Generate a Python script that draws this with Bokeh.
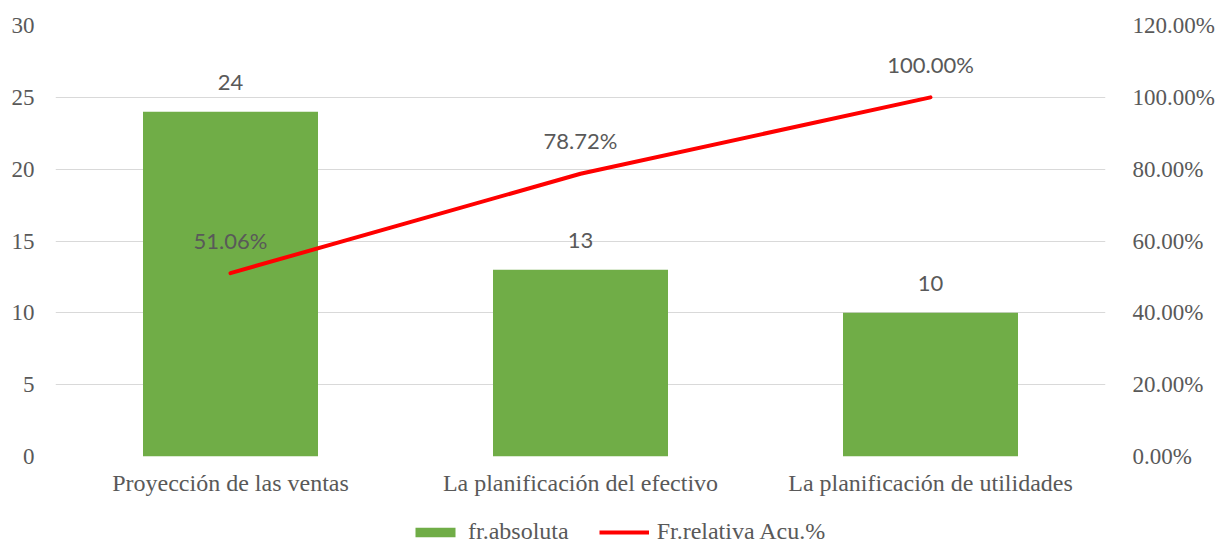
from bokeh.plotting import figure
from bokeh.layouts import column
from bokeh.models import (ColumnDataSource, Range1d, FactorRange, LinearAxis, FixedTicker,
                          NumeralTickFormatter, Legend, LegendItem)
from bokeh.core.properties import value
from bokeh.embed import file_html
from bokeh.resources import INLINE

categories = ["Proyección de las ventas", "La planificación del efectivo", "La planificación de utilidades"]
absoluta = [24, 13, 10]
relativa_acu = [0.5106, 0.7872, 1.0]
absoluta_labels = ["24", "13", "10"]
relativa_labels = ["51.06%", "78.72%", "100.00%"]
left_ticks = [0, 5, 10, 15, 20, 25, 30]
right_ticks = [0, 0.2, 0.4, 0.6, 0.8, 1.0, 1.2]
series_names = ["fr.absoluta", "Fr.relativa Acu.%"]

TEXT = "#595959"
GRID = "#D9D9D9"
GREEN = "#70AD47"
RED = "#FF0000"
SERIF = "Liberation Serif"

src = ColumnDataSource(dict(cat=categories, absoluta=absoluta, rel=relativa_acu,
                            alab=absoluta_labels, rlab=relativa_labels))

p = figure(width=1217, height=519, x_range=FactorRange(*categories, range_padding=0),
           y_range=Range1d(0, 30), output_backend="svg", toolbar_location=None,
           min_border_left=55, min_border_right=107, min_border_top=25, min_border_bottom=63)
p.outline_line_color = None
p.extra_y_ranges = {"pct": Range1d(0, 1.2)}

p.vbar(x="cat", top="absoluta", width=0.5, source=src, color=GREEN, line_color=None)
p.line(x="cat", y="rel", source=src, y_range_name="pct", line_color=RED,
       line_width=4, line_cap="round", line_join="round")

p.text(x="cat", y="absoluta", text="alab", source=src, text_align="center", text_baseline="middle",
       y_offset=-29, text_font=value("Lato"), text_font_size="22px", text_color=TEXT)
p.text(x="cat", y="rel", text="rlab", source=src, y_range_name="pct", text_align="center",
       text_baseline="middle", y_offset=-33, text_font=value("Lato"), text_font_size="22px",
       text_color=TEXT)

# axes
p.yaxis.ticker = FixedTicker(ticks=left_ticks)
for ax in [p.yaxis[0], p.xaxis[0]]:
    ax.axis_line_color = None
    ax.major_tick_line_color = None
    ax.minor_tick_line_color = None
    ax.major_tick_out = 0
    ax.major_tick_in = 0
    ax.major_label_text_font = SERIF
    ax.major_label_text_color = TEXT
p.yaxis.major_label_text_font_size = "23px"
p.xaxis.major_label_text_font_size = "24px"
p.yaxis.major_label_standoff = 21
p.xaxis.major_label_standoff = 13

right = LinearAxis(y_range_name="pct", ticker=FixedTicker(ticks=right_ticks),
                   formatter=NumeralTickFormatter(format="0.00%"))
right.axis_line_color = None
right.major_tick_line_color = None
right.minor_tick_line_color = None
right.major_tick_out = 0
right.major_tick_in = 0
right.major_label_text_font = SERIF
right.major_label_text_font_size = "23px"
right.major_label_text_color = TEXT
right.major_label_standoff = 27
p.add_layout(right, "right")

p.xgrid.grid_line_color = None
p.ygrid.grid_line_color = GRID
p.ygrid.grid_line_width = 1

# legend strip (separate small figure so the legend is not clipped by the main frame)
lf = figure(width=1217, height=26, output_backend="svg", toolbar_location=None,
            x_axis_type=None, y_axis_type=None, min_border=0,
            x_range=FactorRange(*categories), y_range=Range1d(0, 30))
lf.outline_line_color = None
lf.xgrid.visible = False
lf.ygrid.visible = False
lbar = lf.vbar(x="cat", top="absoluta", width=0.5, source=src, color=GREEN, line_color=None,
               visible=False)
lline = lf.line(x="cat", y="absoluta", source=src, line_color=RED, line_width=4, visible=False)

legend = Legend(items=[LegendItem(label=series_names[0], renderers=[lbar]),
                       LegendItem(label=series_names[1], renderers=[lline])],
                location=(355, 0), orientation="horizontal", padding=0, margin=0,
                spacing=30, label_standoff=8, glyph_width=50, glyph_height=12,
                label_text_font=SERIF, label_text_font_size="24px", label_text_color=TEXT,
                border_line_color=None, background_fill_alpha=0)
lf.add_layout(legend, "center")

layout = column(p, lf, spacing=0)
open("out.html", "w").write(file_html(layout, INLINE))
